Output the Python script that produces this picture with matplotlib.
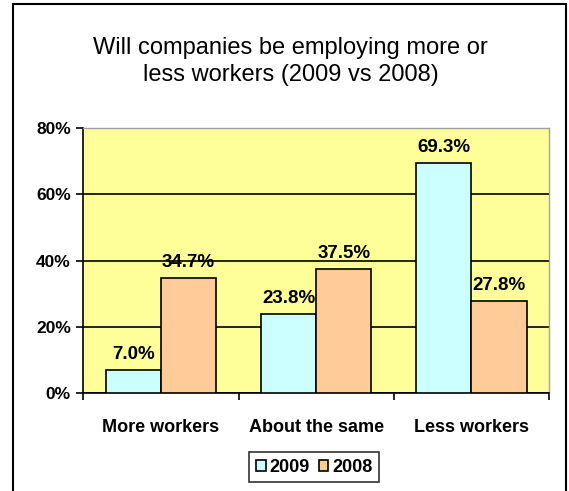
import matplotlib.pyplot as plt
import numpy as np
from matplotlib.patches import Rectangle

categories = ["More workers", "About the same", "Less workers"]
years = ["2009", "2008"]
values_2009 = [7.0, 23.8, 69.3]
values_2008 = [34.7, 37.5, 27.8]
yticks = [0, 20, 40, 60, 80]

plt.rcParams["font.family"] = ["Liberation Sans", "DejaVu Sans"]

fig = plt.figure(figsize=(5.69, 4.91), dpi=100)
# outer chart frame (bottom runs off the image)
fig.patches.append(Rectangle((13 / 569, -0.05), (566 - 13) / 569, 1.05 - 4 / 491,
                             transform=fig.transFigure, fill=False,
                             edgecolor="black", linewidth=1.5))

ax = fig.add_axes([0.1464, 0.1996, 0.8186, 0.5397])
ax.set_facecolor("#FFFF99")

x = np.arange(len(categories)) + 0.5
w = 0.355
b1 = ax.bar(x - w / 2, values_2009, w, color="#CCFFFF", edgecolor="black",
            linewidth=1.2, label=years[0], zorder=3)
b2 = ax.bar(x + w / 2, values_2008, w, color="#FFCC99", edgecolor="black",
            linewidth=1.2, label=years[1], zorder=3)

for bars, vals in [(b1, values_2009), (b2, values_2008)]:
    for rect, v in zip(bars, vals):
        ax.annotate(f"{v:.1f}%", (rect.get_x() + rect.get_width() / 2, v),
                    xytext=(0, 8), textcoords="offset points",
                    ha="center", va="baseline", fontsize=13.5, fontweight="bold",
                    zorder=4)

ax.set_xlim(0, len(categories))
ax.set_ylim(0, 80)
ax.set_yticks(yticks)
ax.set_yticklabels([f"{t}%" for t in yticks], fontsize=12.5, fontweight="bold")
ax.set_xticks(np.arange(len(categories) + 1))
ax.set_xticklabels([])
ax.set_xticks(x, minor=True)
ax.set_xticklabels(categories, minor=True, fontsize=13, fontweight="bold")
ax.tick_params(axis="x", which="minor", length=0, pad=19)
ax.tick_params(axis="x", which="major", length=5, width=1.2, direction="out")
ax.tick_params(axis="y", length=5, width=1.2, direction="out", pad=4)
ax.yaxis.grid(True, color="black", linewidth=1.2, zorder=1)
ax.set_axisbelow(True)

for side in ["top", "right"]:
    ax.spines[side].set_color("#a0a0a0")
    ax.spines[side].set_linewidth(1)
for side in ["left", "bottom"]:
    ax.spines[side].set_color("black")
    ax.spines[side].set_linewidth(1.2)

fig.text(0.5105, 0.875, "Will companies be employing more or\nless workers (2009 vs 2008)",
         ha="center", va="center", fontsize=17, linespacing=1.25)

leg = fig.legend(loc="center", bbox_to_anchor=(314 / 569, 1 - 467 / 491), ncol=2,
                 frameon=True, fancybox=False, edgecolor="black",
                 prop={"weight": "bold", "size": 13}, handlelength=0.55,
                 handleheight=0.55, handletextpad=0.2, columnspacing=0.5,
                 borderpad=0.35, borderaxespad=0)
leg.get_frame().set_linewidth(1.2)

fig.savefig("out.png", dpi=100)
